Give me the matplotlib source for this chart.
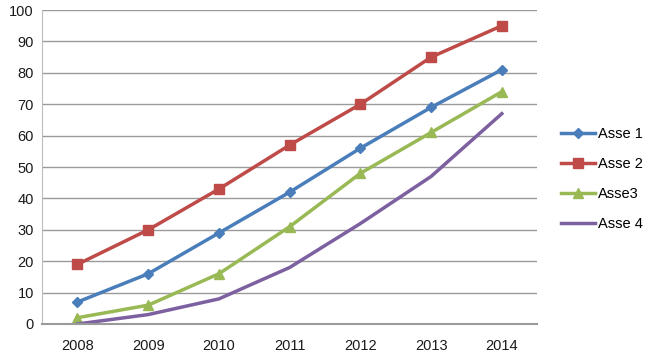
import matplotlib.pyplot as plt
import numpy as np

years = ['2008', '2009', '2010', '2011', '2012', '2013', '2014']
asse1 = [7, 16, 29, 42, 56, 69, 81]
asse2 = [19, 30, 43, 57, 70, 85, 95]
asse3 = [2, 6, 16, 31, 48, 61, 74]
asse4 = [0, 3, 8, 18, 32, 47, 67]

plt.rcParams['font.family'] = ['Liberation Sans', 'DejaVu Sans']

fig = plt.figure(figsize=(6.48, 3.59), dpi=100)
ax = fig.add_axes([0.065, 0.0975, 0.764, 0.8745])

x = np.arange(len(years))
ax.plot(x, asse1, color='#4A7EBB', lw=2.5, marker='D', ms=5, label='Asse 1')
ax.plot(x, asse2, color='#BE4B48', lw=2.5, marker='s', ms=7, label='Asse 2')
ax.plot(x, asse3, color='#98B954', lw=2.5, marker='^', ms=7, label='Asse3')
ax.plot(x, asse4, color='#7D60A0', lw=2.5, label='Asse 4')

ax.set_xlim(-0.5, len(years) - 0.5)
ax.set_ylim(0, 100)
ax.set_yticks(range(0, 101, 10))
ax.set_xticks(x)
ax.set_xticklabels(years)
ax.tick_params(length=0, labelsize=10.5, colors='#1a1a1a')
ax.tick_params(axis='x', pad=11)
ax.tick_params(axis='y', pad=6)
ax.yaxis.grid(True, color='#9a9a9a', lw=1)
ax.set_axisbelow(True)
for s in ['top', 'right']:
    ax.spines[s].set_visible(False)
ax.spines['left'].set_color('#bdbdbd')
ax.spines['bottom'].set_color('#9a9a9a')
ax.spines['bottom'].set_linewidth(1.5)

leg = fig.legend(loc='upper left', bbox_to_anchor=(0.866, 0.646), frameon=False,
                 fontsize=10.5, handlelength=2.3, labelspacing=1.1, handletextpad=0.2,
                 borderaxespad=0, borderpad=0)

fig.savefig('out.png', dpi=100)
